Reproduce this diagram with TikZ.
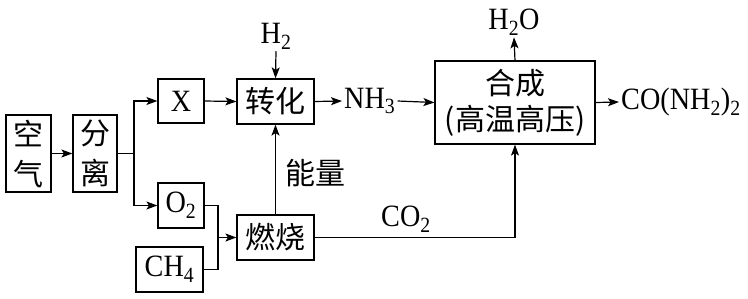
\documentclass[tikz,border=0pt]{standalone}
\usepackage{fontspec}
\setmainfont[FakeStretch=0.91]{Liberation Serif}
\newfontfamily\cjk{Noto Sans CJK SC}
\usetikzlibrary{arrows.meta}
\begin{document}
\begin{tikzpicture}[x=1pt,y=-1pt,
  every node/.style={inner sep=0pt,font=\fontsize{31}{36}\selectfont},
  box/.style={draw,line width=1.2pt,align=center},
  zh/.style={font=\fontsize{30}{36}\selectfont\cjk},
  lbl/.style={inner sep=2pt},
  line/.style={line width=1.2pt},
  arr/.style={line width=1.2pt,-{Stealth[length=11pt,width=8pt,inset=2.5pt]}}
]
\useasboundingbox (0,0) rectangle (748,298);
\node[box,minimum width=45pt,minimum height=77pt,font=\fontsize{30}{40}\selectfont\cjk] (kq) at (28.5,153.5) {空\\气};
\node[box,minimum width=44pt,minimum height=77pt,font=\fontsize{30}{40}\selectfont\cjk] (fl) at (95,153.5) {分\\离};
\node[box,minimum width=46pt,minimum height=44pt] (X) at (181,101) {X};
\node[box,zh,minimum width=77pt,minimum height=45pt] (zh) at (275.5,101.5) {转化};
\node[box,minimum width=46pt,minimum height=45pt] (O2) at (181,205.5) {O\textsubscript{2}};
\node[box,minimum width=67pt,minimum height=45pt] (CH4) at (169.5,269.5) {CH\textsubscript{4}};
\node[box,zh,minimum width=77pt,minimum height=45pt] (rs) at (275.5,237.5) {燃烧};
\node[box,zh,minimum width=160pt,minimum height=83pt] (hc) at (515,102.5) {合成\\(高温高压)};
\node[lbl] (H2) at (276,36) {H\textsubscript{2}};
\node[lbl,anchor=west] (NH3) at (342,101) {NH\textsubscript{3}};
\node[lbl] (H2O) at (514,22) {H\textsubscript{2}O};
\node[lbl,zh] (nl) at (315,173) {能量};
\node[lbl] (CO2) at (406,219) {CO\textsubscript{2}};
\node[lbl,anchor=west] (urea) at (619,102) {CO(NH\textsubscript{2})\textsubscript{2}};
\coordinate (j1) at (134,153.5);
\coordinate (j2) at (218,237.5);
\coordinate (j3) at (515,237.5);
\draw[arr] (kq.east) -- (fl.west);
\draw[line] (fl.east) -- (j1);
\draw[arr] (j1) |- (X.west);
\draw[arr] (j1) |- (O2.west);
\draw[arr] (X.east) -- (zh.west);
\draw[arr] (H2.south) -- (zh.north);
\draw[arr] (zh.east) -- (NH3.west);
\draw[arr] (NH3.east) -- (hc.west);
\draw[arr] (hc.north) -- (H2O.south);
\draw[arr] (hc.east) -- (urea.west);
\draw[line] (O2.east) -| (j2) |- (CH4.east);
\draw[arr] (j2) -- (rs.west);
\draw[arr] (rs.north) -- (zh.south);
\draw[line] (rs.east) -- (j3);
\draw[arr] (j3) -- (hc.south);
\end{tikzpicture}
\end{document}
